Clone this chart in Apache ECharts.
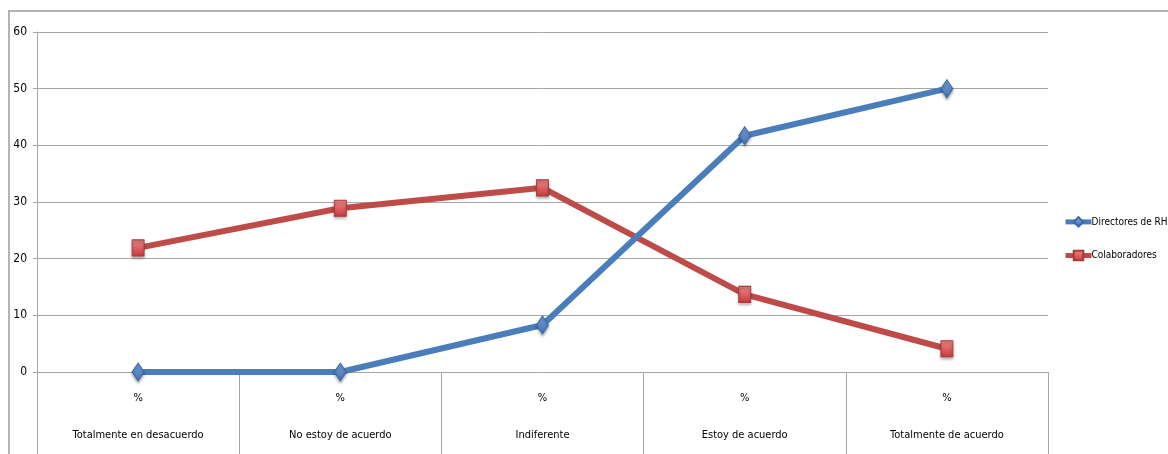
<!DOCTYPE html>
<html>
<head>
<meta charset="utf-8">
<script src="https://cdn.jsdelivr.net/npm/echarts@6/dist/echarts.min.js"></script>
<style>
  html, body { margin: 0; padding: 0; background: #fff; overflow: hidden; }
  #wrap { position: relative; width: 100vw; height: 100vh; overflow: hidden; }
  #frame {
    position: absolute; left: 8px; top: 2.2%; right: 0; bottom: 0;
    border-top: 2px solid #b4b4b4; border-left: 2px solid #b4b4b4;
  }
  #chart { position: absolute; left: 0; top: 0; width: 100%; height: 100%; }
</style>
</head>
<body>
<div id="wrap">
  <div id="frame"></div>
  <div id="chart"></div>
</div>
<script>
// categorias del eje x
const categorias = [
  'Totalmente en desacuerdo',
  'No estoy de acuerdo',
  'Indiferente',
  'Estoy de acuerdo',
  'Totalmente de acuerdo'
]
// valores en %
const directores = [0, 0, 8.3, 41.7, 50]
const colaboradores = [21.9, 28.9, 32.5, 13.7, 4.1]
const yTicks = { min: 0, max: 60, interval: 10 }

const font = "'DejaVu Sans Condensed', 'Liberation Sans Narrow', sans-serif"
const gray = '#a6a6a6'

const chart = echarts.init(document.getElementById('chart'))
const option = {
  animation: false,
  textStyle: { fontFamily: font },
  grid: { left: 37, width: 1011, top: '7.05%', height: '75.77%', containLabel: false },
  legend: {
    orient: 'vertical',
    left: 1058,
    top: '46.5%',
    itemWidth: 26,
    itemHeight: 12,
    itemGap: 22,
    lineStyle: { width: 5 },
    textStyle: { fontFamily: font, fontSize: 10, color: '#000', padding: [0, 0, 0, -5] },
    data: ['Directores de RH', 'Colaboradores']
  },
  xAxis: {
    type: 'category',
    data: categorias,
    boundaryGap: true,
    axisLine: { show: true, lineStyle: { color: gray, width: 1 } },
    axisTick: { show: true, interval: 0, length: 90, lineStyle: { color: gray } },
    axisLabel: {
      interval: 0,
      margin: 8,
      lineHeight: 37,
      fontSize: 11,
      color: '#000',
      fontFamily: font,
      formatter: v => '%\n' + v
    }
  },
  yAxis: {
    type: 'value',
    min: yTicks.min,
    max: yTicks.max,
    interval: yTicks.interval,
    axisLine: { show: true, lineStyle: { color: gray } },
    axisTick: { show: true, length: 4, lineStyle: { color: gray } },
    axisLabel: { fontSize: 12, color: '#000', margin: 10, fontFamily: font },
    splitLine: { show: true, lineStyle: { color: gray, width: 1 } }
  },
  series: [
    {
      name: 'Directores de RH',
      type: 'line',
      data: directores,
      symbol: 'diamond',
      symbolSize: [12, 18],
      lineStyle: { color: '#4a7ebb', width: 6 },
      itemStyle: {
        color: new echarts.graphic.LinearGradient(0, 0, 0, 1, [
          { offset: 0, color: '#7ea6de' },
          { offset: 1, color: '#3f6fb3' }
        ]),
        borderColor: '#3d6aa8',
        borderWidth: 1,
        shadowBlur: 3,
        shadowColor: 'rgba(0,0,0,0.35)',
        shadowOffsetY: 2
      },
      z: 3
    },
    {
      name: 'Colaboradores',
      type: 'line',
      data: colaboradores,
      symbol: 'rect',
      symbolSize: [12, 16],
      lineStyle: { color: '#be4b48', width: 6 },
      itemStyle: {
        color: new echarts.graphic.LinearGradient(0, 0, 0, 1, [
          { offset: 0, color: '#f08a8a' },
          { offset: 1, color: '#c8383c' }
        ]),
        borderColor: '#a83a38',
        borderWidth: 1,
        shadowBlur: 3,
        shadowColor: 'rgba(0,0,0,0.35)',
        shadowOffsetY: 2
      },
      z: 2
    }
  ]
}
chart.setOption(option)
window.addEventListener('resize', () => chart.resize())
</script>
</body>
</html>
